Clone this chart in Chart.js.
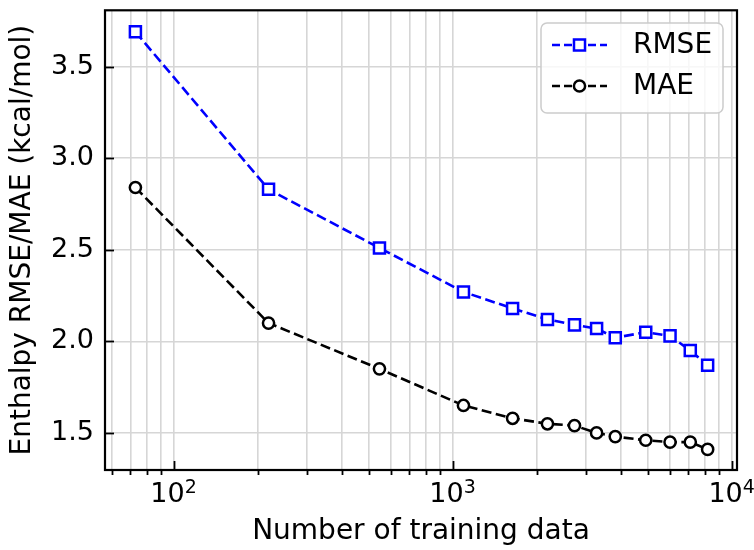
<!DOCTYPE html>
<html>
<head>
<meta charset="utf-8">
<script src="https://cdn.jsdelivr.net/npm/chart.js@4.4.1/dist/chart.umd.min.js"></script>
<style>
  html, body { margin: 0; padding: 0; background: #fff; }
  #wrap { width: 754px; height: 550px; }
</style>
</head>
<body>
<div id="wrap"><canvas id="chart" width="754" height="550"></canvas></div>
<script>
var trainSizes = [73, 219, 547, 1094, 1641, 2188, 2735, 3282, 3829, 4923, 6017, 7111, 8205];
var rmse = [3.69, 2.83, 2.51, 2.27, 2.18, 2.12, 2.09, 2.07, 2.02, 2.05, 2.03, 1.95, 1.87];
var mae = [2.84, 2.10, 1.85, 1.65, 1.58, 1.55, 1.54, 1.50, 1.48, 1.46, 1.45, 1.45, 1.41];

var xTicks = [60, 70, 80, 90, 100, 200, 300, 400, 500, 600, 700, 800, 900,
              1000, 2000, 3000, 4000, 5000, 6000, 7000, 8000, 9000, 10000];
var xMajor = [100, 1000, 10000];
var yTicks = [1.5, 2.0, 2.5, 3.0, 3.5];

var FONT = '"DejaVu Sans", sans-serif';
var TICK_PX = 27;
var LABEL_PX = 28;
var dash = [10, 4.5];

function toPoints(ys) {
    return trainSizes.map(function (x, i) { return { x: x, y: ys[i] }; });
}

// box spines, inward major ticks, outward minor ticks, 10^n labels
var axesPlugin = {
    id: "axesDecor",
    afterDatasetsDraw: function (chart) {
        var ctx = chart.ctx, a = chart.chartArea;
        var xs = chart.scales.x, ys = chart.scales.y;
        ctx.save();
        ctx.strokeStyle = "#000";
        ctx.lineWidth = 1.8;
        xTicks.forEach(function (v) {
            var px = Math.round(xs.getPixelForValue(v)) + 0.5;
            ctx.beginPath();
            if (xMajor.indexOf(v) >= 0) {
                ctx.moveTo(px, a.bottom); ctx.lineTo(px, a.bottom - 9);
            } else {
                ctx.moveTo(px, a.bottom); ctx.lineTo(px, a.bottom + 5);
            }
            ctx.stroke();
        });
        yTicks.forEach(function (v) {
            var py = Math.round(ys.getPixelForValue(v)) + 0.5;
            ctx.beginPath();
            ctx.moveTo(a.left, py); ctx.lineTo(a.left + 9, py);
            ctx.stroke();
        });
        ctx.lineWidth = 2.2;
        ctx.strokeRect(a.left, a.top, a.right - a.left, a.bottom - a.top);

        // power-of-ten labels
        ctx.fillStyle = "#000";
        ctx.textAlign = "left";
        ctx.textBaseline = "alphabetic";
        xMajor.forEach(function (v) {
            var px = xs.getPixelForValue(v);
            var exp = String(Math.round(Math.log10(v)));
            ctx.font = TICK_PX + "px " + FONT;
            var wb = ctx.measureText("10").width;
            ctx.font = Math.round(TICK_PX * 0.7) + "px " + FONT;
            var we = ctx.measureText(exp).width;
            var x0 = px - (wb + we) / 2;
            ctx.font = TICK_PX + "px " + FONT;
            ctx.fillText("10", x0, 502);
            ctx.font = Math.round(TICK_PX * 0.7) + "px " + FONT;
            ctx.fillText(exp, x0 + wb, 493);
        });
        ctx.restore();
    },
    afterDraw: function (chart) {
        // legend box with dashed handles
        var ctx = chart.ctx;
        ctx.save();
        var bx = 541, by = 23, bw = 182, bh = 90, r = 6;
        ctx.beginPath();
        ctx.moveTo(bx + r, by);
        ctx.arcTo(bx + bw, by, bx + bw, by + bh, r);
        ctx.arcTo(bx + bw, by + bh, bx, by + bh, r);
        ctx.arcTo(bx, by + bh, bx, by, r);
        ctx.arcTo(bx, by, bx + bw, by, r);
        ctx.closePath();
        ctx.fillStyle = "rgba(255,255,255,0.8)";
        ctx.fill();
        ctx.strokeStyle = "#cccccc";
        ctx.lineWidth = 1.5;
        ctx.stroke();

        chart.data.datasets.forEach(function (ds, i) {
            var y = 45 + i * 41;
            ctx.setLineDash([8, 4]);
            ctx.strokeStyle = ds.borderColor;
            ctx.lineWidth = ds.borderWidth;
            ctx.beginPath();
            ctx.moveTo(552, y); ctx.lineTo(607, y);
            ctx.stroke();
            ctx.setLineDash([]);
            ctx.fillStyle = "#fff";
            ctx.lineWidth = ds.pointBorderWidth;
            ctx.strokeStyle = ds.pointBorderColor;
            if (ds.pointStyle === "rect") {
                var s = ds.pointRadius * Math.SQRT1_2;
                ctx.fillRect(579.5 - s, y - s, 2 * s, 2 * s);
                ctx.strokeRect(579.5 - s, y - s, 2 * s, 2 * s);
            } else {
                ctx.beginPath();
                ctx.arc(579.5, y, ds.pointRadius, 0, Math.PI * 2);
                ctx.fill();
                ctx.stroke();
            }
            ctx.fillStyle = "#000";
            ctx.font = LABEL_PX + "px " + FONT;
            ctx.textAlign = "left";
            ctx.textBaseline = "middle";
            ctx.fillText(ds.label, 633, y + 1);
        });
        ctx.restore();
    }
};

new Chart(document.getElementById("chart"), {
    type: "line",
    data: {
        datasets: [
            {
                label: "RMSE",
                data: toPoints(rmse),
                borderColor: "#0000ff",
                borderWidth: 2.6,
                borderDash: dash,
                pointStyle: "rect",
                pointRadius: 7.8,
                pointBorderWidth: 2.5,
                pointBackgroundColor: "#fff",
                pointBorderColor: "#0000ff",
                tension: 0,
                fill: false,
            },
            {
                label: "MAE",
                data: toPoints(mae),
                borderColor: "#000000",
                borderWidth: 2.6,
                borderDash: dash,
                pointStyle: "circle",
                pointRadius: 5.6,
                pointBorderWidth: 2.5,
                pointBackgroundColor: "#fff",
                pointBorderColor: "#000000",
                tension: 0,
                fill: false,
            },
        ],
    },
    options: {
        responsive: false,
        animation: false,
        devicePixelRatio: 1,
        layout: { padding: { top: 7, right: 17, left: 0, bottom: 0 } },
        plugins: { legend: { display: false }, tooltip: { enabled: false } },
        scales: {
            x: {
                type: "logarithmic",
                min: 56.8,
                max: 10455,
                afterBuildTicks: function (s) {
                    s.ticks = xTicks.map(function (v) { return { value: v }; });
                },
                afterFit: function (s) {
                    s.height = 80;
                    s.paddingLeft = 0; s.paddingRight = 0;
                },
                grid: { color: "#d6d6d6", lineWidth: 1.6, drawTicks: false },
                border: { display: false },
                ticks: { display: false },
                title: {
                    display: true,
                    text: "Number of training data",
                    color: "#000",
                    font: { family: FONT, size: LABEL_PX },
                    padding: { top: 0, bottom: 1 },
                },
            },
            y: {
                type: "linear",
                min: 1.2977,
                max: 3.8076,
                afterBuildTicks: function (s) {
                    s.ticks = yTicks.map(function (v) { return { value: v }; });
                },
                afterFit: function (s) {
                    s.width = 105;
                    s.paddingTop = 0; s.paddingBottom = 0;
                },
                grid: { color: "#d6d6d6", lineWidth: 1.6, drawTicks: false },
                border: { display: false },
                ticks: {
                    color: "#000",
                    padding: 11,
                    font: { family: FONT, size: TICK_PX },
                    callback: function (v) { return Number(v).toFixed(1); },
                },
                title: {
                    display: true,
                    text: "Enthalpy RMSE/MAE (kcal/mol)",
                    color: "#000",
                    font: { family: FONT, size: LABEL_PX },
                    padding: { top: 6, bottom: 0 },
                },
            },
        },
    },
    plugins: [axesPlugin],
});
</script>
</body>
</html>
